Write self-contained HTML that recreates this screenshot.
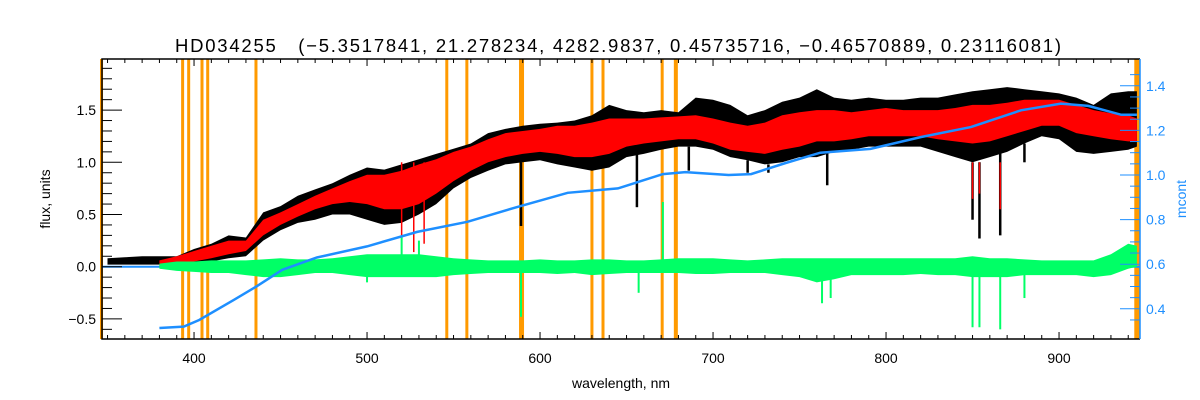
<!DOCTYPE html>
<html><head><meta charset="utf-8"><style>
body{margin:0;background:#fff;}
svg{display:block;font-family:"Liberation Sans",sans-serif;}
</style></head><body>
<svg id="chart" width="1200" height="400" viewBox="0 0 1200 400">
<text x="618" y="52" text-anchor="middle" font-size="18.5" fill="#000" style="white-space:pre" textLength="886" lengthAdjust="spacing">HD034255   (−5.3517841, 21.278234, 4282.9837, 0.45735716, −0.46570889, 0.23116081)</text>
<text x="621" y="388" text-anchor="middle" font-size="14" fill="#000">wavelength, nm</text>
<text transform="translate(50,199) rotate(-90)" text-anchor="middle" font-size="14" fill="#000">flux, units</text>
<text transform="translate(1186,199) rotate(-90)" text-anchor="middle" font-size="14" fill="#1e8fff">mcont</text>
<g id="plot"></g>
</svg>
<script>
const wl=[350,360,370,380,390,400,410,420,430,440,450,460,470,480,490,500,510,520,530,540,550,560,570,580,590,600,610,620,630,640,650,660,670,680,690,700,710,720,730,740,750,760,770,780,790,800,810,820,830,840,850,860,870,880,890,900,910,920,930,940,945];
const blackHi=[0.08,0.09,0.1,0.1,0.1,0.17,0.22,0.3,0.28,0.52,0.58,0.68,0.74,0.8,0.88,0.95,0.93,0.98,1.03,1.08,1.13,1.18,1.28,1.32,1.35,1.37,1.38,1.4,1.45,1.55,1.5,1.48,1.5,1.48,1.62,1.6,1.55,1.45,1.5,1.58,1.62,1.7,1.62,1.6,1.62,1.6,1.6,1.62,1.62,1.65,1.68,1.7,1.72,1.7,1.68,1.66,1.62,1.55,1.66,1.68,1.68];
const blackLo=[0.02,0.02,0.02,0.02,0.03,0.04,0.05,0.08,0.1,0.25,0.35,0.42,0.45,0.5,0.5,0.45,0.4,0.42,0.5,0.6,0.75,0.85,0.92,0.98,1.0,1.02,0.98,0.95,0.92,0.95,1.05,1.08,1.12,1.15,1.15,1.12,1.05,1.02,0.98,1.0,1.05,1.05,1.1,1.12,1.15,1.15,1.15,1.15,1.1,1.05,1.0,1.05,1.1,1.18,1.25,1.22,1.1,1.08,1.1,1.12,1.15];
const redWl=[380,390,400,410,420,430,440,450,460,470,480,490,500,510,520,530,540,550,560,570,580,590,600,610,620,630,640,650,660,670,680,690,700,710,720,730,740,750,760,770,780,790,800,810,820,830,840,850,860,870,880,890,900,910,920,930,940,945];
const redHi=[0.06,0.1,0.15,0.2,0.25,0.25,0.45,0.52,0.6,0.68,0.75,0.82,0.88,0.88,0.92,0.98,1.03,1.1,1.15,1.22,1.28,1.3,1.32,1.35,1.35,1.38,1.42,1.42,1.42,1.43,1.44,1.45,1.42,1.38,1.35,1.38,1.45,1.48,1.5,1.5,1.48,1.5,1.52,1.5,1.5,1.5,1.52,1.55,1.55,1.57,1.6,1.6,1.6,1.55,1.5,1.47,1.45,1.42];
const redLo=[0.0,0.0,0.05,0.08,0.12,0.15,0.3,0.4,0.48,0.55,0.6,0.62,0.6,0.55,0.55,0.6,0.7,0.82,0.92,1.0,1.05,1.08,1.1,1.08,1.05,1.05,1.08,1.15,1.18,1.2,1.22,1.22,1.18,1.12,1.1,1.08,1.12,1.15,1.2,1.2,1.22,1.25,1.25,1.25,1.25,1.22,1.2,1.18,1.2,1.25,1.3,1.35,1.35,1.28,1.25,1.22,1.2,1.2];
const greenHi=[0.03,0.05,0.05,0.06,0.06,0.06,0.07,0.08,0.07,0.07,0.08,0.1,0.12,0.12,0.12,0.12,0.1,0.08,0.07,0.06,0.06,0.06,0.07,0.06,0.06,0.07,0.07,0.06,0.06,0.07,0.08,0.08,0.08,0.07,0.06,0.07,0.08,0.08,0.08,0.08,0.08,0.08,0.08,0.08,0.08,0.08,0.08,0.1,0.08,0.08,0.07,0.06,0.06,0.06,0.06,0.12,0.22,0.2];
const greenLo=[-0.02,-0.04,-0.05,-0.06,-0.06,-0.08,-0.1,-0.1,-0.08,-0.06,-0.06,-0.08,-0.1,-0.1,-0.1,-0.1,-0.1,-0.08,-0.07,-0.06,-0.06,-0.06,-0.06,-0.07,-0.06,-0.08,-0.07,-0.06,-0.06,-0.06,-0.06,-0.07,-0.07,-0.06,-0.06,-0.06,-0.08,-0.1,-0.15,-0.12,-0.08,-0.08,-0.08,-0.08,-0.07,-0.08,-0.08,-0.1,-0.1,-0.1,-0.08,-0.08,-0.08,-0.08,-0.1,-0.08,-0.02,0.0];
const blackLineWl=[589,656,766,850,854,866,527,686,720,732,880];
const blackLineMin=[0.39,0.57,0.78,0.45,0.27,0.3,0.5,0.92,0.9,0.9,1.0];
const redLineWl=[527,533,520,850,854,866,760];
const redLineMin=[0.14,0.22,0.3,0.65,0.7,0.55,1.0];
const greenLineWl=[589,671,657,763,768,850,854,866,880,530,520,500];
const greenLineVal=[-0.48,0.62,-0.25,-0.35,-0.3,-0.58,-0.58,-0.6,-0.3,0.25,0.3,-0.15];
const mcWl=[380,394,403,423,436,451,471,500,529,558,587,616,645,671,684,709,722,742,762,791,820,849,878,901,917,936,945];
const mcVal=[0.314,0.32,0.35,0.44,0.5,0.575,0.63,0.68,0.745,0.79,0.857,0.92,0.94,1.004,1.013,1.0,1.004,1.054,1.1,1.117,1.17,1.215,1.29,1.32,1.31,1.27,1.27];
const maskWl=[393.4,396.9,404.6,407.9,435.8,546.1,557.7,589.3,630.0,636.4,670.6,678.5];
const maskW=[3,3,3,3,3,3,3,5,3,3,3,4];
const xTicks=[400,500,600,700,800,900];
const yTicks=[-0.5,0.0,0.5,1.0,1.5];
const rTicks=[0.4,0.6,0.8,1.0,1.2,1.4];

const X0=102,X1=1140,Y0=59,Y1=339;
const xS=w=>X0+(w-346.8)*1.73;
const yL=f=>266.7-f*104.4;
const yR=m=>175-(m-1)*223;
const g=document.getElementById('plot');
const NS='http://www.w3.org/2000/svg';
function mk(tag,attrs){const e=document.createElementNS(NS,tag);for(const k in attrs)e.setAttribute(k,attrs[k]);g.appendChild(e);return e;}
function band(ws,hi,lo,fill,name){
  let p=ws.map((w,i)=>xS(w).toFixed(1)+','+yL(hi[i]).toFixed(1));
  for(let i=ws.length-1;i>=0;i--)p.push(xS(ws[i]).toFixed(1)+','+yL(lo[i]).toFixed(1));
  const e=mk('polygon',{points:p.join(' '),fill:fill});
  
  
}
maskWl.forEach((w,i)=>{
  const e=mk('rect',{x:xS(w)-maskW[i]/2,y:Y0,width:maskW[i],height:Y1-Y0,fill:'#ff9a00'});
  
  
});
let e1=mk('rect',{x:X0-2,y:Y0,width:3,height:Y1-Y0,fill:'#ff9a00'});


let e2=mk('rect',{x:xS(943.5),y:Y0,width:X1-xS(943.5),height:Y1-Y0,fill:'#ff9a00'});


let zl=mk('line',{x1:X0,x2:X1,y1:yL(0),y2:yL(0),stroke:'#1e8fff','stroke-width':2});


band(wl,blackHi,blackLo,'#000','observed-flux');
blackLineWl.forEach((w,i)=>{
  const e=mk('line',{x1:xS(w),x2:xS(w),y1:yL(blackLo[Math.min(wl.length-1,Math.round((w-350)/10))]),y2:yL(blackLineMin[i]),stroke:'#000','stroke-width':2.5});
  
  
});
band(redWl,redHi,redLo,'#ff0000','model-flux');
redLineWl.forEach((w,i)=>{
  const e=mk('line',{x1:xS(w),x2:xS(w),y1:yL(1.0),y2:yL(redLineMin[i]),stroke:'#ff0000','stroke-width':1.5});
  
  
});
band(redWl,greenHi,greenLo,'#00ff66','residual');
greenLineWl.forEach((w,i)=>{
  const e=mk('line',{x1:xS(w),x2:xS(w),y1:yL(0),y2:yL(greenLineVal[i]),stroke:'#00ff66','stroke-width':2});
  
  
});
let mc=mk('polyline',{points:mcWl.map((w,i)=>xS(w).toFixed(1)+','+yR(mcVal[i]).toFixed(1)).join(' '),fill:'none',stroke:'#1e8fff','stroke-width':2.5});


let fr=mk('polyline',{points:`${X1},${Y0} ${X0},${Y0} ${X0},${Y1} ${X1},${Y1}`,fill:'none',stroke:'#000','stroke-width':1.5});


let ra=mk('line',{x1:X1,x2:X1,y1:Y0,y2:Y1,stroke:'#1e8fff','stroke-width':1.5});


for(let w=350;w<=940;w+=10){
  const maj=w%100===0,len=maj?7:4;
  const t=mk('path',{d:`M${xS(w)},${Y1}v${-len}M${xS(w)},${Y0}v${len}`,stroke:'#000','stroke-width':1});
  
  
}
xTicks.forEach(w=>{
  const t=mk('text',{x:xS(w),y:363,'text-anchor':'middle','font-size':14,fill:'#000'});
  t.textContent=w;
  
  
});
for(let k=-6;k<=19;k++){
  const f=k/10,maj=k%5===0,len=maj?20:10;
  const t=mk('line',{x1:X0,x2:X0+len,y1:yL(f),y2:yL(f),stroke:'#000','stroke-width':1});
  
  
}
yTicks.forEach(f=>{
  const t=mk('text',{x:X0-6,y:yL(f)+5,'text-anchor':'end','font-size':14,fill:'#000'});
  t.textContent=(f<0?'−':'')+Math.abs(f).toFixed(1);
  
  
});
for(let k=7;k<=29;k++){
  const m=k/20,maj=k%4===0,len=maj?20:10;
  const y=yR(m);if(y<Y0||y>Y1)continue;
  const t=mk('line',{x1:X1-len,x2:X1,y1:y,y2:y,stroke:'#1e8fff','stroke-width':1});
  
  
}
rTicks.forEach(m=>{
  const t=mk('text',{x:X1+6,y:yR(m)+5,'font-size':14,fill:'#1e8fff'});
  t.textContent=m.toFixed(1);
  
  
});
</script>
</body></html>
